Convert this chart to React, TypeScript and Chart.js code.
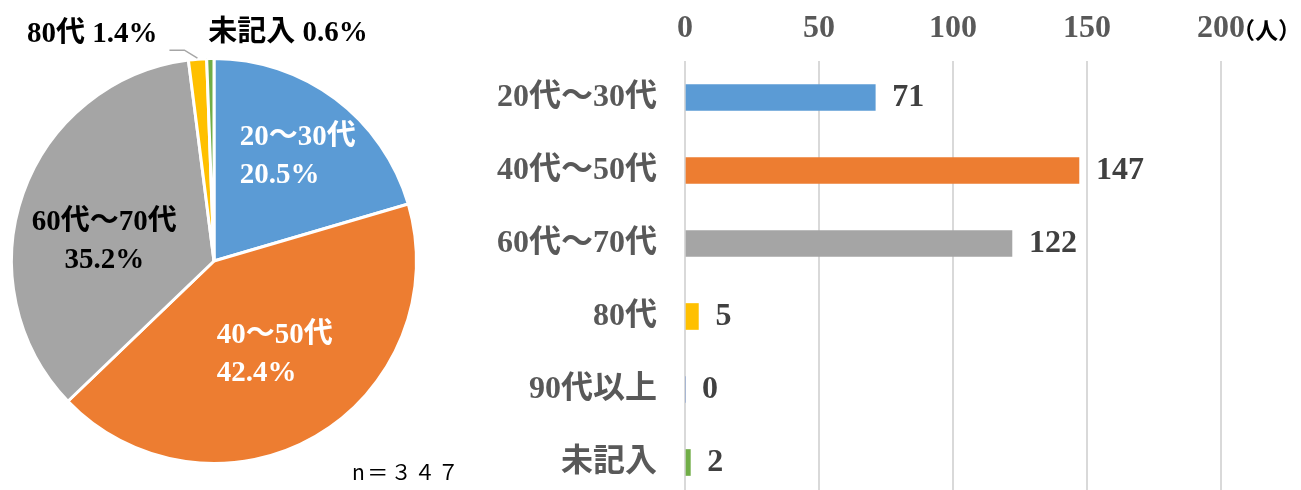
import React, { useEffect, useRef } from "react";
import { Chart, registerables } from "chart.js";

Chart.register(...registerables);

// ---- data ----
const barCategories = ["20代～30代", "40代～50代", "60代～70代", "80代", "90代以上", "未記入"];
const pieLabels = ["20～30代", "40～50代", "60代～70代", "80代", "90代以上", "未記入"];
const counts = [71, 147, 122, 5, 0, 2];
const colors = ["#5B9BD5", "#ED7D31", "#A5A5A5", "#FFC000", "#4472C4", "#70AD47"];
const xTickMin = 0;
const xTickMax = 200;
const xTickStep = 50;
const sampleSizeText = "n＝３４７";
const unitText = "（人）";

const SERIF = "'Liberation Serif', 'Noto Sans CJK JP', serif";

// label style per slice: inside labels (radius fraction, angle tweak in degrees, align, colour) or outside
const pieLabelStyle = [
  { inside: true, r: 0.66, rot: 2, align: "left", color: "#FFFFFF" },
  { inside: true, r: 0.55, rot: -3, align: "left", color: "#FFFFFF" },
  { inside: true, r: 0.55, rot: -9.5, align: "center", color: "#000000" },
  { inside: false, side: "left", color: "#000000", leader: true },
  { inside: false, side: "none", color: "#000000", leader: false },
  { inside: false, side: "right", color: "#000000", leader: false },
];

const pieLabelPlugin = {
  id: "pieLabelPlugin",
  afterDatasetsDraw(chart: any) {
    const ctx = chart.ctx;
    const meta = chart.getDatasetMeta(0);
    const total = counts.reduce((a, b) => a + b, 0);
    ctx.save();
    ctx.font = `bold 29px ${SERIF}`;
    ctx.textBaseline = "middle";
    meta.data.forEach((arc: any, i: number) => {
      const v = counts[i];
      if (!v) return;
      const { x, y, startAngle, endAngle, outerRadius } = arc.getProps(
        ["x", "y", "startAngle", "endAngle", "outerRadius"],
        true
      );
      const pct = (v / total * 100).toFixed(1) + "%";
      const st: any = pieLabelStyle[i];
      const mid = (startAngle + endAngle) / 2;
      if (st.inside) {
        const a = mid + (st.rot * Math.PI) / 180;
        const px = x + Math.cos(a) * outerRadius * st.r;
        const py = y + Math.sin(a) * outerRadius * st.r;
        const lines = [pieLabels[i], pct];
        const w = Math.max(...lines.map((l) => ctx.measureText(l).width));
        ctx.fillStyle = st.color;
        lines.forEach((l, k) => {
          const ly = py + (k - 0.5) * 38;
          if (st.align === "left") {
            ctx.textAlign = "left";
            ctx.fillText(l, px - w / 2, ly);
          } else {
            ctx.textAlign = "center";
            ctx.fillText(l, px, ly);
          }
        });
      } else {
        const ex = x + Math.cos(mid) * (outerRadius + 1);
        const ey = y + Math.sin(mid) * (outerRadius + 1);
        const text = pieLabels[i] + " " + pct;
        ctx.fillStyle = st.color;
        if (st.side === "left") {
          if (st.leader) {
            ctx.strokeStyle = "#A6A6A6";
            ctx.lineWidth = 1.5;
            ctx.beginPath();
            ctx.moveTo(ex, ey);
            ctx.lineTo(ex - 13, ey - 8);
            ctx.lineTo(ex - 28, ey - 8);
            ctx.stroke();
          }
          ctx.textAlign = "right";
          ctx.fillText(text, ex - 40, ey - 24);
        } else if (st.side === "right") {
          ctx.textAlign = "left";
          ctx.fillText(text, ex - 2, ey - 24);
        }
      }
    });
    ctx.restore();
  },
};

const barLabelPlugin = {
  id: "barLabelPlugin",
  afterDatasetsDraw(chart: any) {
    const ctx = chart.ctx;
    const meta = chart.getDatasetMeta(0);
    ctx.save();
    ctx.font = `bold 32px ${SERIF}`;
    ctx.fillStyle = "#404040";
    ctx.textAlign = "left";
    ctx.textBaseline = "middle";
    meta.data.forEach((bar: any, i: number) => {
      ctx.fillText(String(counts[i]), bar.x + 17, bar.y);
    });
    ctx.restore();
  },
};

export default function App() {
  const pieRef = useRef<HTMLCanvasElement | null>(null);
  const barRef = useRef<HTMLCanvasElement | null>(null);

  useEffect(() => {
    const pie = new Chart(pieRef.current as HTMLCanvasElement, {
      type: "pie",
      data: {
        labels: pieLabels,
        datasets: [
          {
            data: counts,
            backgroundColor: colors,
            borderColor: "#FFFFFF",
            borderWidth: 3,
            hoverOffset: 0,
            offset: 0,
          },
        ],
      },
      options: {
        animation: false,
        responsive: false,
        maintainAspectRatio: false,
        layout: { padding: { left: 10, top: 57, right: 22, bottom: 25 } },
        plugins: { legend: { display: false }, tooltip: { enabled: false } },
      },
      plugins: [pieLabelPlugin],
    } as any);

    const tickFont = { family: SERIF, size: 32, weight: "bold" };
    const bar = new Chart(barRef.current as HTMLCanvasElement, {
      type: "bar",
      data: {
        labels: barCategories,
        datasets: [
          {
            data: counts,
            backgroundColor: colors,
            barThickness: 26,
          },
        ],
      },
      options: {
        indexAxis: "y",
        animation: false,
        responsive: false,
        maintainAspectRatio: false,
        layout: { padding: { left: 0, right: 80, top: 0, bottom: 0 } },
        plugins: { legend: { display: false }, tooltip: { enabled: false } },
        scales: {
          x: {
            position: "top",
            min: xTickMin,
            max: xTickMax,
            ticks: { stepSize: xTickStep, padding: 13, color: "#595959", font: tickFont },
            grid: { color: "#D9D9D9", lineWidth: 2, drawTicks: false },
            border: { display: false },
            afterFit: (s: any) => {
              s.height = 61;
              s.paddingLeft = 0;
              s.paddingRight = 0;
            },
          },
          y: {
            ticks: { padding: 28, color: "#595959", font: tickFont },
            grid: { display: false, drawTicks: false },
            border: { display: false },
            afterFit: (s: any) => {
              s.width = 205;
              s.paddingTop = 0;
              s.paddingBottom = 0;
            },
          },
        },
      },
      plugins: [barLabelPlugin],
    } as any);

    return () => {
      pie.destroy();
      bar.destroy();
    };
  }, []);

  return (
    <div
      style={{
        position: "absolute",
        left: 0,
        top: 0,
        width: 1301,
        height: 490,
        overflow: "hidden",
        background: "#FFFFFF",
      }}
    >
      <canvas
        ref={pieRef}
        width={440}
        height={490}
        style={{ position: "absolute", left: 0, top: 0, width: 440, height: 490 }}
      />
      <canvas
        ref={barRef}
        width={821}
        height={499}
        style={{ position: "absolute", left: 480, top: 0, width: 821, height: 499 }}
      />
      <div
        style={{
          position: "absolute",
          left: 1232,
          top: 15,
          fontFamily: "'Noto Sans CJK JP', sans-serif",
          fontWeight: "bold",
          fontSize: 23,
          lineHeight: "28px",
          color: "#000000",
          whiteSpace: "nowrap",
        }}
      >
        {unitText}
      </div>
      <div
        style={{
          position: "absolute",
          left: 352,
          top: 458,
          fontFamily: "'Noto Sans CJK JP', sans-serif",
          fontSize: 21,
          lineHeight: "26px",
          letterSpacing: "2.5px",
          color: "#000000",
          whiteSpace: "nowrap",
        }}
      >
        {sampleSizeText}
      </div>
    </div>
  );
}
